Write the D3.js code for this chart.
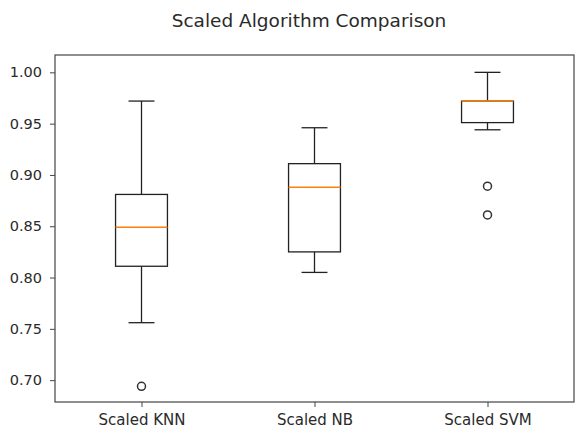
<!DOCTYPE html>
<html><head><meta charset="utf-8">
<script src="https://cdn.jsdelivr.net/npm/d3@7"></script>
<style>body{margin:0;background:#fff}svg{display:block}text{font-family:"DejaVu Sans",sans-serif;fill:#2a2a2a}</style>
</head><body><svg id="c" width="580" height="430"></svg>
<script>
const categories = ["Scaled KNN", "Scaled NB", "Scaled SVM"];
const whiskLow  = [0.756, 0.805, 0.944];
const q1        = [0.811, 0.825, 0.951];
const medians   = [0.849, 0.888, 0.972];
const q3        = [0.881, 0.911, 0.972];
const whiskHigh = [0.972, 0.946, 1.000];
const outliers  = [[0.694], [], [0.889, 0.861]];
const yTicks = [0.70, 0.75, 0.80, 0.85, 0.90, 0.95, 1.00];

const svg = d3.select("#c");
const L = 55, R = 574, T = 55, B = 402;
const x = d3.scaleLinear().domain([0.5, 3.5]).range([L, R]);
const y = d3.scaleLinear().domain([0.6787, 1.0169]).range([B, T]);

svg.append("text").attr("x", 309).attr("y", 27).attr("text-anchor", "middle")
  .style("font-size", "18.5px").text("Scaled Algorithm Comparison");

const ya = svg.append("g").attr("transform", `translate(${L},0)`)
  .call(d3.axisLeft(y).tickValues(yTicks).tickFormat(d3.format(".2f")).tickSize(5).tickPadding(8));
const xa = svg.append("g").attr("transform", `translate(0,${B})`)
  .call(d3.axisBottom(x).tickValues([1,2,3]).tickFormat((d,i)=>categories[i]).tickSize(5).tickPadding(7));
[ya, xa].forEach(a => {
  a.select(".domain").remove();
  a.selectAll(".tick line").attr("stroke", "#444");
  a.selectAll(".tick text").attr("fill", "#2a2a2a");
});
ya.selectAll(".tick text").style("font-size", "14.5px");
xa.selectAll(".tick text").style("font-size", "15px");
svg.append("rect").attr("x", L).attr("y", T).attr("width", R - L).attr("height", B - T)
  .attr("fill", "none").attr("stroke", "#444").attr("stroke-width", 1.2);

const bw = x(1.15) - x(1), cw = x(1.075) - x(1);
const g = svg.append("g").attr("stroke", "#222").attr("stroke-width", 1.3).attr("fill", "none");
categories.forEach((c, i) => {
  const cx = x(i + 1);
  g.append("line").attr("x1", cx).attr("x2", cx).attr("y1", y(whiskLow[i])).attr("y2", y(q1[i]));
  g.append("line").attr("x1", cx).attr("x2", cx).attr("y1", y(q3[i])).attr("y2", y(whiskHigh[i]));
  g.append("line").attr("x1", cx - cw).attr("x2", cx + cw).attr("y1", y(whiskLow[i])).attr("y2", y(whiskLow[i]));
  g.append("line").attr("x1", cx - cw).attr("x2", cx + cw).attr("y1", y(whiskHigh[i])).attr("y2", y(whiskHigh[i]));
  g.append("rect").attr("x", cx - bw).attr("width", 2 * bw).attr("y", y(q3[i])).attr("height", y(q1[i]) - y(q3[i]));
  g.append("line").attr("x1", cx - bw).attr("x2", cx + bw).attr("y1", y(medians[i])).attr("y2", y(medians[i]))
    .attr("stroke", "#ff7f0e").attr("stroke-width", 1.6);
  outliers[i].forEach(v => g.append("circle").attr("cx", cx).attr("cy", y(v)).attr("r", 4).attr("stroke-width", 1.5).attr("stroke", "#333"));
});
</script></body></html>
